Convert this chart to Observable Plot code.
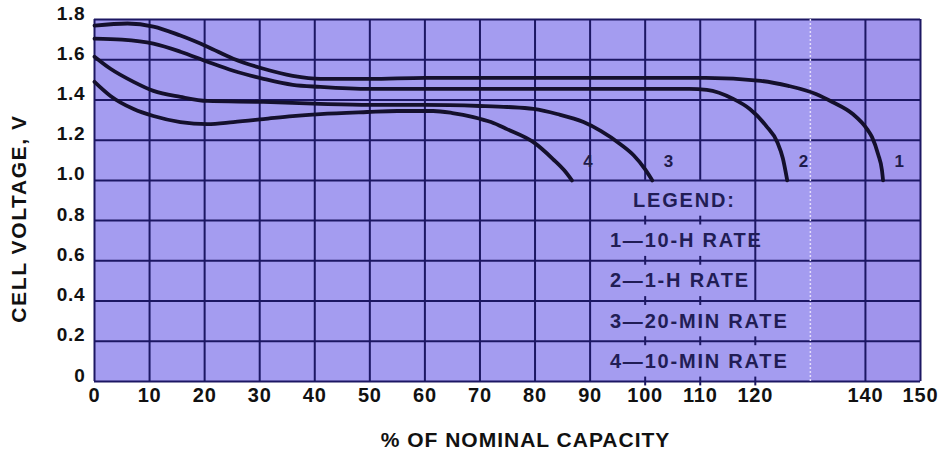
<!DOCTYPE html>
<html><head><meta charset="utf-8">
<script src="https://cdn.jsdelivr.net/npm/d3@7"></script>
<script src="https://cdn.jsdelivr.net/npm/@observablehq/plot@0.6"></script>
<style>
body{margin:0;background:#fff;}
#chart svg{display:block;}
</style></head><body><div id="chart"></div>
<script>
// ---- data ----
const xTicks = [0,10,20,30,40,50,60,70,80,90,100,110,120,140,150];
const yTicks = [0,0.2,0.4,0.6,0.8,1.0,1.2,1.4,1.6,1.8];
const seriesNames = ["1","2","3","4"];
const legendTitle = "LEGEND:";
const legendItems = ["1\u201410-H RATE","2\u20141-H RATE","3\u201420-MIN RATE","4\u201410-MIN RATE"];
const xTitle = "% OF NOMINAL CAPACITY";
const yTitle = "CELL VOLTAGE, V";

const cap1  = [0,6,10.7,15.6,20.5,25.2,30.7,36,41,50,60,70,80,90,100,111,121,126,131,134,137.7,140.3,141.2,142.3,143.0,143.2];
const volt1 = [1.77,1.78,1.765,1.72,1.665,1.605,1.555,1.52,1.505,1.505,1.51,1.51,1.51,1.51,1.51,1.51,1.495,1.47,1.43,1.39,1.33,1.255,1.215,1.13,1.05,1.0];
const cap2  = [0,5,10.7,15.6,20.5,25.2,30.7,36,41,50,60,70,80,90,100,108,111.2,116,119,122,124,125,125.8];
const volt2 = [1.705,1.70,1.68,1.64,1.59,1.545,1.505,1.475,1.465,1.455,1.455,1.455,1.455,1.455,1.455,1.455,1.45,1.405,1.355,1.27,1.19,1.11,1.0];
const cap3  = [0,2.9,7.1,10.7,15.6,20.5,30.7,41,50,60,70,75,79.7,84,88.8,92,95.5,97.9,100,101.3];
const volt3 = [1.615,1.555,1.49,1.445,1.415,1.395,1.39,1.38,1.375,1.375,1.37,1.365,1.355,1.33,1.29,1.245,1.18,1.125,1.055,1.0];
const cap4  = [0,2.9,7.1,10.7,15.6,20.5,25.2,30.7,36,41,49.5,55,61.5,65,68.8,72,74.9,79.7,83.3,85.3,86.7];
const volt4 = [1.49,1.42,1.355,1.32,1.29,1.28,1.29,1.305,1.32,1.33,1.34,1.345,1.345,1.335,1.315,1.29,1.255,1.19,1.105,1.05,1.0];

// ---- build tables ----
const caps = [cap1,cap2,cap3,cap4], volts = [volt1,volt2,volt3,volt4];
const curves = seriesNames.flatMap((s,i) => caps[i].map((c,j) => ({series:s, x:c, y:volts[i][j]})));
const curveLabels = seriesNames.map((s,i) => ({text:s, x:caps[i][caps[i].length-1] + 3, y:1.095}));
const legendRows = [legendTitle, ...legendItems].map((t,i) => ({text:t, x: i===0 ? 97.8 : 93.6, y: 0.9 - 0.2*i}));

const gridX = d3.range(0,151,10);
const vGrid = gridX.flatMap(x => {
  if (x===100 || x===110) return [{x, y1:1.0, y2:1.8}];
  if (x===120) return [{x, y1:0.4, y2:1.8}];
  if (x===130) return [];
  return [{x, y1:0, y2:1.8}];
});
const legendTicks = [];
[100,110].forEach(x => [0,0.2,0.4,0.6,0.8].forEach(y => legendTicks.push({x, y1:y-0.022, y2:y+0.022})));
[0,0.2].forEach(y => legendTicks.push({x:120, y1:y-0.022, y2:y+0.022}));

const navy = "#1c1763";
const ink = "#14102c";

const chart = Plot.plot({
  width: 942, height: 457,
  marginTop: 19, marginBottom: 76, marginLeft: 94, marginRight: 22,
  x: {domain:[0,150]},
  y: {domain:[0,1.8]},
  style: {fontFamily:"'Liberation Sans', Arial, sans-serif", fontWeight:"bold", color:"#111", background:"#fff"},
  marks: [
    Plot.frame({fill:"#a49cf0", stroke:null}),
    Plot.rect([{x1:130,x2:150,y1:0,y2:1.8}], {x1:"x1",x2:"x2",y1:"y1",y2:"y2", fill:"#a094ec"}),
    Plot.ruleY(yTicks, {stroke:navy, strokeWidth:2}),
    Plot.ruleX(vGrid, {x:"x", y1:"y1", y2:"y2", stroke:navy, strokeWidth:2}),
    Plot.ruleX(legendTicks, {x:"x", y1:"y1", y2:"y2", stroke:navy, strokeWidth:2}),
    Plot.ruleX([130], {stroke:"#e4ddfa", strokeWidth:1.5, strokeDasharray:"2,2"}),
    Plot.line(curves, {x:"x", y:"y", z:"series", stroke:ink, strokeWidth:3.8, curve:"monotone-x"}),
    Plot.text(curveLabels, {x:"x", y:"y", text:"text", fontSize:17, fontWeight:"bold", fill:"#1e1b4a"}),
    Plot.text(legendRows, {x:"x", y:"y", text:"text", textAnchor:"start", fontSize:20, fontWeight:"bold", fill:"#211d55", className:"leg"}),
    Plot.axisX({ticks:xTicks, tickSize:0, tickPadding:6, fontSize:20, fontWeight:"bold", fill:"#111"}),
    Plot.axisY({ticks:yTicks, tickSize:0, tickPadding:9, dy:-6, fontSize:19, fontWeight:"bold", fill:"#111",
      tickFormat: d => d === 0 ? "0" : d.toFixed(1)}),
    Plot.text([xTitle], {frameAnchor:"bottom", dy:65, dx:18, fontSize:21, fontWeight:"bold", fill:"#111", className:"xt"}),
    Plot.text([yTitle], {frameAnchor:"left", textAnchor:"middle", dx:-75, dy:18, rotate:-90, fontSize:21, fontWeight:"bold", fill:"#111", className:"yt"})
  ]
});
chart.querySelectorAll("text").forEach(t => t.setAttribute("letter-spacing","0.8"));
chart.querySelectorAll(".leg text").forEach(t => t.setAttribute("letter-spacing","1.8"));
chart.querySelectorAll(".xt text").forEach(t => t.setAttribute("letter-spacing","1.0"));
chart.querySelectorAll(".yt text").forEach(t => t.setAttribute("letter-spacing","1.6"));
document.getElementById("chart").appendChild(chart);
</script></body></html>
